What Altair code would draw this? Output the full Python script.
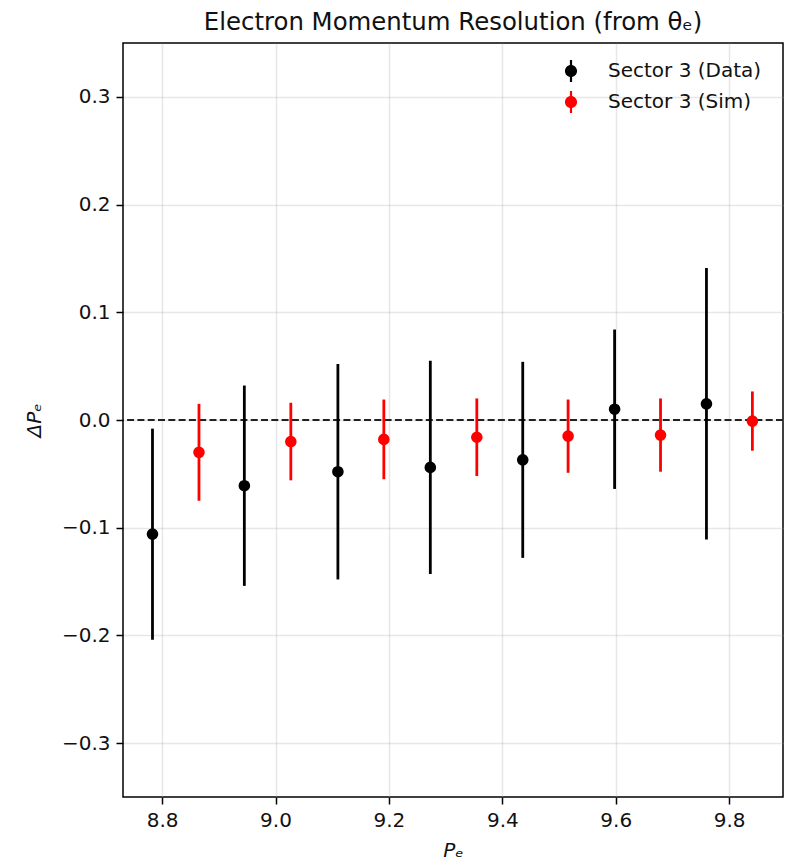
import altair as alt
import pandas as pd

# ---- data ----
data_x = [8.783, 8.945, 9.110, 9.273, 9.436, 9.598, 9.760]
data_y = [-0.106, -0.061, -0.048, -0.044, -0.037, 0.010, 0.015]
data_err = [0.098, 0.093, 0.100, 0.099, 0.091, 0.074, 0.126]

sim_x = [8.865, 9.027, 9.191, 9.355, 9.516, 9.679, 9.841]
sim_y = [-0.030, -0.020, -0.018, -0.016, -0.015, -0.014, -0.001]
sim_err = [0.045, 0.036, 0.037, 0.036, 0.034, 0.034, 0.0275]

series_names = ["Sector 3 (Data)", "Sector 3 (Sim)"]
series_colors = ["#000000", "#ff0000"]

x_ticks = [8.8, 9.0, 9.2, 9.4, 9.6, 9.8]
y_ticks = [-0.3, -0.2, -0.1, 0.0, 0.1, 0.2, 0.3]
x_domain = [8.731, 9.895]
y_domain = [-0.35, 0.35]
zero_line = [0.0]

rows = []
for xs, ys, es, name in [(data_x, data_y, data_err, series_names[0]),
                         (sim_x, sim_y, sim_err, series_names[1])]:
    for xv, yv, ev in zip(xs, ys, es):
        rows.append({"P": xv, "dP": yv, "lo": yv - ev, "hi": yv + ev, "series": name})
df = pd.DataFrame(rows)

FONT = "DejaVu Sans"
FS = 20

xscale = alt.Scale(domain=x_domain, nice=False, zero=False)
yscale = alt.Scale(domain=y_domain, nice=False, zero=False)
color_scale = alt.Scale(domain=series_names, range=series_colors)

legend_path = ("M-0.55,0 A0.55,0.55 0 1,1 0.55,0 A0.55,0.55 0 1,1 -0.55,0 Z "
               "M-0.1,-1 L0.1,-1 L0.1,1 L-0.1,1 Z")

legend = alt.Legend(
    title=None,
    orient="none",
    legendX=437,
    legendY=17,
    symbolType=legend_path,
    symbolSize=484,
    symbolStrokeWidth=0,
    symbolOpacity=1,
    labelFontSize=FS,
    labelFont=FONT,
    labelColor="#111111",
    labelOffset=26,
    rowPadding=9,
    padding=0,
)

base = alt.Chart(df)

xaxis = alt.Axis(values=x_ticks, format=".1f", title="Pₑ", titleFontStyle="italic")
yaxis = alt.Axis(values=y_ticks, format=".1f", title="ΔPₑ", titleFontStyle="italic")

zero = alt.Chart(pd.DataFrame({"z": zero_line})).mark_rule(
    color="#222222", strokeDash=[7, 3.3], strokeWidth=1.8
).encode(y=alt.Y("z:Q", scale=yscale, axis=yaxis))

bars = base.mark_rule(strokeWidth=2.8).encode(
    x=alt.X("P:Q", scale=xscale, axis=xaxis),
    y=alt.Y("lo:Q", scale=yscale, axis=yaxis),
    y2="hi:Q",
    color=alt.Color("series:N", scale=color_scale, legend=legend),
)

points = base.mark_point(filled=True, opacity=1, size=135).encode(
    x=alt.X("P:Q", scale=xscale, axis=xaxis),
    y=alt.Y("dP:Q", scale=yscale, axis=yaxis),
    color=alt.Color("series:N", scale=color_scale, legend=legend),
)

chart = alt.layer(zero, bars, points).properties(
    width=660,
    height=754,
    title=alt.TitleParams(
        "Electron Momentum Resolution (from θₑ)",
        fontSize=24.4,
        font=FONT,
        fontWeight="normal",
        color="#111111",
        offset=8,
    ),
    autosize=alt.AutoSizeParams(type="none"),
    padding={"left": 123, "top": 43, "right": 6, "bottom": 69},
).configure_view(
    stroke="#000000", strokeWidth=1.5
).configure_axis(
    labelFont=FONT,
    titleFont=FONT,
    labelFontSize=FS,
    titleFontSize=FS,
    titleFontWeight="normal",
    labelColor="#111111",
    titleColor="#111111",
    grid=True,
    gridColor="#b0b0b0",
    gridOpacity=0.3,
    gridWidth=1.5,
    domain=False,
    tickColor="#000000",
    tickSize=7,
    tickWidth=1.5,
    labelPadding=6,
).configure_axisX(
    titlePadding=10,
).configure_axisY(
    titlePadding=17,
)

chart.save("out.html", embed_options={"renderer": "svg", "actions": False})
